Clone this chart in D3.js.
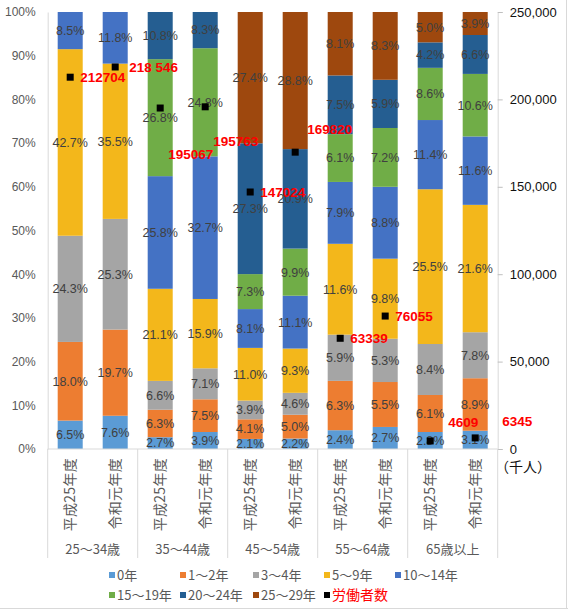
<!DOCTYPE html>
<meta charset="utf-8">
<script src="https://d3js.org/d3.v7.min.js"></script>
<style>
  body { margin: 0; background: #fff; }
  text { font-family: "Liberation Sans", Arial, sans-serif; }
  .jp { font-family: "Noto Sans CJK JP", "Noto Sans", sans-serif; }
</style>
<div id="chart"></div>
<script>
// age groups and survey years (two bars per group)
const groups = ["25～34歳", "35～44歳", "45～54歳", "55～64歳", "65歳以上"];
const years = ["平成25年度", "令和元年度"];

// years of experience (series)
const series = ["0年", "1～2年", "3～4年", "5～9年", "10～14年", "15～19年", "20～24年", "25～29年"];

// share (%) per bar, in order: group1 H25, group1 R1, group2 H25, ...
const v0   = [6.5, 7.6, 2.7, 3.9, 2.1, 2.2, 2.4, 2.7, 2.8, 3.1];
const v1_2 = [18.0, 19.7, 6.3, 7.5, 4.1, 5.0, 6.3, 5.5, 6.1, 8.9];
const v3_4 = [24.3, 25.3, 6.6, 7.1, 3.9, 4.6, 5.9, 5.3, 8.4, 7.8];
const v5_9 = [42.7, 35.5, 21.1, 15.9, 11.0, 9.3, 11.6, 9.8, 25.5, 21.6];
const v10_14 = [8.5, 11.8, 25.8, 32.7, 8.1, 11.1, 7.9, 8.8, 11.4, 11.6];
const v15_19 = [null, null, 26.8, 24.8, 7.3, 9.9, 6.1, 7.2, 8.6, 10.6];
const v20_24 = [null, null, 10.8, 8.3, 27.3, 20.9, 7.5, 5.9, 4.2, 6.6];
const v25_29 = [null, null, null, null, 27.4, 28.8, 8.1, 8.3, 5.0, 3.9];

// number of workers (千人), right axis
const workers = [212704, 218546, 195067, 195763, 147024, 169820, 63339, 76055, 4609, 6345];
const workerLabels = ["212704", "218 546", "195067", "195763", "147024", "169820", "63339", "76055", "4609", "6345"];

const pctTicks = [0, 0.1, 0.2, 0.3, 0.4, 0.5, 0.6, 0.7, 0.8, 0.9, 1];
const workerTicks = [0, 50000, 100000, 150000, 200000, 250000];

const colors = ["#5B9BD5", "#ED7D31", "#A5A5A5", "#F3B71B", "#4472C4", "#70AD47", "#255E91", "#9E480E"];

const allValues = [v0, v1_2, v3_4, v5_9, v10_14, v15_19, v20_24, v25_29];

// one row per bar
const rows = workers.map((w, i) => {
  const r = { id: i, group: groups[Math.floor(i / 2)], year: years[i % 2], workers: w };
  series.forEach((s, k) => { r[s] = allValues[k][i] || 0; });
  return r;
});

const W = 568, H = 611;
const plot = { left: 47.7, right: 497.7, top: 12, bottom: 449 };

const svg = d3.select("#chart").append("svg")
  .attr("width", W).attr("height", H);

// frame edges
svg.append("line").attr("x1", 0).attr("x2", W).attr("y1", 608.5).attr("y2", 608.5)
  .attr("stroke", "#d9d9d9");
svg.append("line").attr("x1", 566.5).attr("x2", 566.5).attr("y1", 0).attr("y2", 609)
  .attr("stroke", "#d9d9d9");

const x = d3.scaleBand()
  .domain(rows.map(d => d.id))
  .range([plot.left, plot.right])
  .paddingInner(0.444)
  .paddingOuter(0.222);

const y = d3.scaleLinear().domain([0, 1]).range([plot.bottom, plot.top]);
const yR = d3.scaleLinear().domain([0, 250000]).range([plot.bottom, plot.top]);

const stacked = d3.stack().keys(series).offset(d3.stackOffsetExpand)(rows);

// bars
const layer = svg.selectAll("g.layer")
  .data(stacked)
  .join("g")
    .attr("class", "layer")
    .attr("fill", (d, i) => colors[i]);

layer.selectAll("rect")
  .data(d => d.filter(p => p.data[d.key] > 0).map(p => Object.assign(p, { key: d.key })))
  .join("rect")
    .attr("x", d => x(d.data.id))
    .attr("width", x.bandwidth())
    .attr("y", d => y(d[1]))
    .attr("height", d => y(d[0]) - y(d[1]));

// left axis
const left = svg.append("g").attr("transform", `translate(${plot.left},0)`)
  .call(d3.axisLeft(y).tickValues(pctTicks).tickFormat(d3.format(".0%")).tickSize(0).tickPadding(12));
left.select(".domain").attr("stroke", "#d9d9d9");
left.selectAll("text").attr("fill", "#595959").style("font-size", "12px");

// right axis
const right = svg.append("g").attr("transform", `translate(${plot.right},0)`)
  .call(d3.axisRight(yR).tickValues(workerTicks).tickFormat(d3.format(",")).tickSize(5).tickPadding(7));
right.select(".domain").attr("stroke", "#d9d9d9");
right.selectAll(".tick line").attr("stroke", "#bfbfbf");
right.selectAll("text").attr("fill", "#111").style("font-size", "13px");
svg.append("text").attr("class", "jp")
  .attr("x", 523).attr("y", 467).attr("dy", "0.35em")
  .attr("text-anchor", "middle")
  .style("font-size", "14px").attr("fill", "#111")
  .text("（千人）");

// category axis
svg.append("line")
  .attr("x1", plot.left).attr("x2", plot.right)
  .attr("y1", plot.bottom).attr("y2", plot.bottom)
  .attr("stroke", "#d9d9d9");

const groupBounds = d3.range(groups.length + 1).map(g => plot.left + g * (plot.right - plot.left) / groups.length);
svg.selectAll("line.sep")
  .data(groupBounds)
  .join("line")
    .attr("class", "sep")
    .attr("x1", d => d).attr("x2", d => d)
    .attr("y1", plot.bottom).attr("y2", 558)
    .attr("stroke", "#d9d9d9");

svg.selectAll("text.year")
  .data(rows)
  .join("text")
    .attr("class", "year jp")
    .attr("transform", d => `translate(${x(d.id) + x.bandwidth() / 2},458) rotate(-90)`)
    .attr("text-anchor", "end")
    .attr("dy", "0.35em")
    .style("font-size", "14px")
    .style("letter-spacing", "0.3px")
    .attr("fill", "#595959")
    .text(d => d.year);

svg.selectAll("text.group")
  .data(groups)
  .join("text")
    .attr("class", "group jp")
    .attr("x", (d, i) => (groupBounds[i] + groupBounds[i + 1]) / 2)
    .attr("y", 549).attr("dy", "0.35em")
    .attr("text-anchor", "middle")
    .style("font-size", "13px")
    .attr("fill", "#595959")
    .text(d => d);

// segment labels
layer.selectAll("text")
  .data(d => d.filter(p => p.data[d.key] > 0).map(p => ({ p, key: d.key })))
  .join("text")
    .attr("x", d => x(d.p.data.id) + x.bandwidth() / 2)
    .attr("y", d => y((d.p[0] + d.p[1]) / 2))
    .attr("dy", "0.35em")
    .attr("text-anchor", "middle")
    .attr("fill", "#404040")
    .style("font-size", "12.5px")
    .text(d => d3.format(".1f")(d.p.data[d.key]) + "%");

// worker markers
svg.selectAll("rect.marker")
  .data(rows)
  .join("rect")
    .attr("class", "marker")
    .attr("x", d => x(d.id) + x.bandwidth() / 2 - 3.5)
    .attr("y", d => yR(d.workers) - 3.5)
    .attr("width", 7).attr("height", 7)
    .attr("fill", "#000");

// where each red value label sits relative to its marker (dragged labels in the original)
const labelShift = [[10, 0], [14, 0], [8, 46], [8, 34], [10, 0], [12, -23], [10, 0], [10, 0], [18, -19], [27, -17]];

svg.selectAll("text.wlabel")
  .data(rows)
  .join("text")
    .attr("class", "wlabel")
    .attr("x", d => x(d.id) + x.bandwidth() / 2 + labelShift[d.id][0])
    .attr("y", d => yR(d.workers) + labelShift[d.id][1])
    .attr("dy", "0.35em")
    .attr("fill", "#ff0000")
    .style("font-size", "13.5px")
    .style("font-weight", "bold")
    .text(d => workerLabels[d.id]);

// legend
const legendItems = series.map((s, i) => ({ name: s, color: colors[i], red: false }))
  .concat([{ name: "労働者数", color: "#000", red: true }]);
const colX = [109, 180, 253, 324, 395];

const leg = svg.selectAll("g.leg")
  .data(legendItems)
  .join("g")
    .attr("class", "leg")
    .attr("transform", (d, i) => `translate(${colX[i % 5]},${i < 5 ? 575 : 595})`);
leg.append("rect").attr("x", 0).attr("y", -3).attr("width", 6).attr("height", 6)
  .attr("fill", d => d.color);
leg.append("text").attr("class", "jp")
  .attr("x", 8).attr("dy", "0.35em")
  .style("font-size", d => d.red ? "14px" : "13px")
  .attr("fill", d => d.red ? "#ff0000" : "#595959")
  .text(d => d.name);
</script>
